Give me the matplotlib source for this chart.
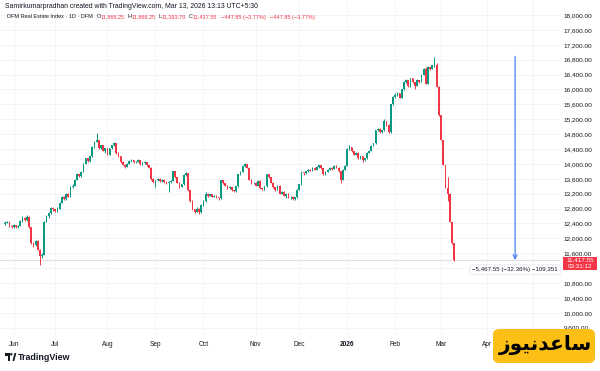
import numpy as np
import matplotlib
matplotlib.use('Agg')
import matplotlib.pyplot as plt
from matplotlib.patches import Rectangle, FancyBboxPatch, Polygon, Circle
from matplotlib.transforms import IdentityTransform

plt.rcParams['font.family'] = ['Liberation Sans', 'DejaVu Sans']

# daily OHLC, DFM Real Estate Index
opens = [
    12380, 12420, 12450, 12330, 12300, 12360, 12310, 12340, 12470, 12560,
    12490, 12580, 12300, 11880, 11820, 11940, 11700, 11520, 11560, 12450,
    12600, 12680, 12820, 12780, 12740, 12800, 12950, 13120, 13050, 13200,
    13120, 13380, 13420, 13580, 13720, 13680, 13780, 14000, 14150, 14080,
    14200, 14450, 14600, 14640, 14430, 14500, 14360, 14420, 14250, 14420,
    14500, 14560, 14300, 14200, 14050, 13980, 13930, 14000, 14080, 14100,
    14050, 14060, 14100, 14000, 14020, 14050, 13960, 13900, 13600, 13520,
    13560, 13600, 13540, 13580, 13520, 13480, 13520, 13550, 13800, 13650,
    13500, 13380, 13450, 13700, 13750, 13300, 13000, 12780, 12720, 12800,
    12700, 12900, 13000, 13200, 13150, 13180, 13120, 13150, 13100, 13080,
    13560, 13480, 13420, 13350, 13380, 13300, 13260, 13400, 13720, 13780,
    13950, 14000, 13900, 13580, 13480, 13500, 13420, 13550, 13350, 13320,
    13400, 13720, 13650, 13500, 13380, 13300, 13420, 13200, 13250, 13150,
    13200, 13100, 13120, 13050, 13100, 13300, 13450, 13780, 13750, 13800,
    13850, 13820, 13900, 13850, 13920, 13960, 13880, 13720, 13780, 13850,
    13900, 13870, 13950, 13900, 13800, 13580, 13850, 13950, 14400, 14450,
    14350, 14250, 14300, 14150, 14200, 14100, 14150, 14300, 14350, 14480,
    14550, 14900, 14950, 14850, 14900, 15150, 15050, 14850, 15600, 15800,
    15850, 15900, 15780, 16000, 16200, 16250, 16080, 16300, 16200, 16100,
    16250, 16200, 16400, 16550, 16150, 16600, 16550, 16650, 16650, 16070,
    15310, 14640, 13970, 13350, 13200, 12440, 11866.25]
highs = [
    12460, 12480, 12460, 12360, 12380, 12370, 12360, 12500, 12590, 12580,
    12620, 12590, 12310, 11900, 11960, 11950, 11720, 11600, 12470, 12620,
    12700, 12850, 12840, 12800, 12830, 12980, 13150, 13140, 13230, 13210,
    13400, 13450, 13600, 13750, 13740, 13800, 14020, 14170, 14160, 14220,
    14470, 14620, 14830, 14650, 14520, 14510, 14440, 14430, 14440, 14520,
    14600, 14570, 14320, 14220, 14070, 14000, 14020, 14100, 14130, 14110,
    14080, 14120, 14110, 14040, 14070, 14060, 13970, 13910, 13620, 13580,
    13620, 13610, 13600, 13590, 13530, 13540, 13570, 13820, 13810, 13660,
    13510, 13470, 13720, 13780, 13760, 13310, 13020, 12800, 12830, 12810,
    12920, 13020, 13240, 13220, 13200, 13190, 13170, 13160, 13110, 13580,
    13570, 13490, 13440, 13400, 13390, 13310, 13420, 13740, 13800, 13980,
    14030, 14010, 13910, 13600, 13520, 13510, 13570, 13560, 13360, 13420,
    13740, 13730, 13660, 13510, 13390, 13440, 13430, 13270, 13260, 13220,
    13210, 13150, 13130, 13120, 13320, 13470, 13800, 13790, 13820, 13870,
    13860, 13920, 13910, 13940, 13980, 13970, 13890, 13800, 13870, 13920,
    13910, 13970, 13960, 13910, 13810, 13870, 13970, 14420, 14520, 14460,
    14360, 14320, 14310, 14220, 14210, 14170, 14320, 14370, 14500, 14570,
    14920, 14970, 14960, 14920, 15200, 15160, 15060, 15620, 15820, 15900,
    15920, 15910, 16020, 16220, 16270, 16260, 16320, 16310, 16210, 16270,
    16260, 16420, 16570, 16600, 16620, 16610, 16670, 16885.10, 16700, 16080,
    15320, 14650, 13980, 13650, 13220, 12450, 11866.25]
lows = [
    12360, 12400, 12300, 12270, 12280, 12290, 12290, 12330, 12450, 12460,
    12480, 12280, 11860, 11760, 11800, 11680, 11290, 11480, 11550, 12430,
    12560, 12660, 12740, 12700, 12720, 12790, 12940, 13020, 13040, 13100,
    13110, 13360, 13400, 13560, 13650, 13660, 13770, 13990, 14050, 14060,
    14190, 14430, 14580, 14400, 14410, 14340, 14300, 14230, 14240, 14400,
    14480, 14280, 14180, 14030, 13960, 13900, 13910, 13990, 14060, 14030,
    14030, 14050, 13980, 13980, 14000, 13940, 13880, 13580, 13500, 13380,
    13540, 13520, 13520, 13500, 13460, 13240, 13500, 13540, 13630, 13480,
    13360, 13370, 13440, 13680, 13280, 12980, 12760, 12690, 12700, 12650,
    12690, 12880, 12990, 13120, 13130, 13100, 13100, 13080, 13040, 13070,
    13460, 13400, 13330, 13330, 13280, 13240, 13250, 13390, 13700, 13770,
    13930, 13880, 13560, 13460, 13460, 13400, 13400, 13330, 13300, 13300,
    13390, 13630, 13480, 13360, 13280, 13290, 13180, 13190, 13130, 13080,
    13080, 13060, 13030, 13040, 13090, 13290, 13440, 13700, 13730, 13780,
    13800, 13810, 13830, 13840, 13900, 13860, 13700, 13700, 13770, 13840,
    13850, 13860, 13880, 13780, 13500, 13570, 13840, 13940, 14380, 14330,
    14230, 14240, 14130, 14140, 14060, 14090, 14140, 14290, 14340, 14470,
    14540, 14880, 14830, 14840, 14890, 15030, 14830, 14840, 15590, 15780,
    15830, 15760, 15770, 15990, 16180, 16060, 16070, 16180, 16000, 16090,
    16180, 16190, 16390, 16140, 16140, 16530, 16540, 16600, 16060, 15300,
    14630, 13960, 13340, 13000, 12430, 11860, 11393.70]
closes = [
    12420, 12450, 12330, 12300, 12360, 12310, 12340, 12470, 12560, 12490,
    12580, 12300, 11880, 11820, 11940, 11700, 11520, 11560, 12450, 12600,
    12680, 12820, 12780, 12740, 12800, 12950, 13120, 13050, 13200, 13120,
    13380, 13420, 13580, 13720, 13680, 13780, 14000, 14150, 14080, 14200,
    14450, 14600, 14640, 14430, 14500, 14360, 14420, 14250, 14420, 14500,
    14560, 14300, 14200, 14050, 13980, 13930, 14000, 14080, 14100, 14050,
    14060, 14100, 14000, 14020, 14050, 13960, 13900, 13600, 13520, 13560,
    13600, 13540, 13580, 13520, 13480, 13520, 13550, 13800, 13650, 13500,
    13380, 13450, 13700, 13750, 13300, 13000, 12780, 12720, 12800, 12700,
    12900, 13000, 13200, 13150, 13180, 13120, 13150, 13100, 13080, 13560,
    13480, 13420, 13350, 13380, 13300, 13260, 13400, 13720, 13780, 13950,
    14000, 13900, 13580, 13480, 13500, 13420, 13550, 13350, 13320, 13400,
    13720, 13650, 13500, 13380, 13300, 13420, 13200, 13250, 13150, 13200,
    13100, 13120, 13050, 13100, 13300, 13450, 13780, 13750, 13800, 13850,
    13820, 13900, 13850, 13920, 13960, 13880, 13720, 13780, 13850, 13900,
    13870, 13950, 13900, 13800, 13580, 13850, 13950, 14400, 14450, 14350,
    14250, 14300, 14150, 14200, 14100, 14150, 14300, 14350, 14480, 14550,
    14900, 14950, 14850, 14900, 15150, 15050, 14850, 15600, 15800, 15850,
    15900, 15780, 16000, 16200, 16250, 16080, 16300, 16200, 16100, 16250,
    16200, 16400, 16550, 16150, 16600, 16550, 16650, 16700, 16070, 15310,
    14640, 13970, 13350, 13200, 12440, 11865.40, 11417.55]

month_labels = ['Jun', 'Jul', 'Aug', 'Sep', 'Oct', 'Nov', 'Dec', '2026', 'Feb', 'Mar', 'Apr']
month_bars = [4, 23, 47, 69, 91, 115, 135, 157, 179, 200, 221]
hidden_month_bar = 242          # May: gridline only, label sits under the watermark
price_ticks = list(range(9600, 18001, 400))

measure_bar = 234
measure_text = '\u22125,467.55 (\u221232.36%) \u2212109,351'
countdown = '03:31:12'
header1 = 'Samirkumarpradhan created with TradingView.com, Mar 13, 2026 13:13 UTC+5:30'
symbol = 'DFM Real Estate Index \u00b7 1D \u00b7 DFM'
watermark = '\uFEAF\uFEEE\uFEF4\uFEE7\uFEAA\uFECB\uFE8E\uFEB3'   # ساعدنیوز, pre-shaped

UP, DOWN = '#089981', '#f23645'
DARK, GRID = '#131722', '#f0f3fa'
W, H = 600, 371

fig = plt.figure(figsize=(6, 3.71), dpi=100)
ax = fig.add_axes([0, 1 - 335 / H, 560 / W, 335 / H])
ax.set_xlim(-2.3, 254.6)
ax.set_ylim(9405, 18403)

o, hi, lo, c = map(np.array, (opens, highs, lows, closes))
x = np.arange(len(c))
col = np.where(c >= o, UP, DOWN)
ax.vlines(x, lo, hi, colors=col, lw=0.7, zorder=2)
ax.bar(x, np.maximum(np.abs(c - o), 12), bottom=np.minimum(o, c), width=0.75,
       color=col, lw=0, zorder=3)

# last price line + measure tool
ax.axhline(c[-1], color='#eadde1', lw=0.8, zorder=1)
ax.annotate('', xy=(measure_bar, c[-1]), xytext=(measure_bar, hi.max()),
            arrowprops=dict(arrowstyle='->', color='#4d7ff2', lw=0.9,
                            shrinkA=0, shrinkB=0, mutation_scale=7), zorder=4)
ax.annotate(measure_text, xy=(measure_bar, c[-1]), xytext=(0, -7), textcoords='offset points',
            ha='center', va='center', fontsize=4.4, color=DARK, zorder=5,
            bbox=dict(boxstyle='round,pad=0.4', fc='white', ec='#e0e3eb', lw=0.5))

# price scale; the label just under the last price is hidden by the badge
ax.yaxis.tick_right()
ylabels = ['' if 0 < c[-1] - v < 300 else f'{v:,.2f}' for v in price_ticks]
ax.set_yticks(price_ticks, ylabels)
ax.set_xticks(month_bars, month_labels)
ax.tick_params(axis='y', length=0, pad=2.5, labelsize=4.6, labelcolor=DARK)
ax.tick_params(axis='x', length=0, pad=4, labelsize=4.7, labelcolor=DARK)
for t in ax.get_xticklabels():
    if t.get_text() == '2026':
        t.set_fontweight('bold')
ax.grid(color=GRID, lw=0.6, zorder=0)
ax.axvline(hidden_month_bar, color=GRID, lw=0.6, zorder=0)
ax.set_axisbelow(True)
for s in ax.spines.values():
    s.set_visible(False)

# last price badge on the price scale
fig.add_artist(Rectangle((563, H - 269.5), 34, 13, transform=IdentityTransform(),
                         fc=DOWN, ec='none', zorder=5))
fig.text(580 / W, 1 - 259.8 / H, f'{c[-1]:,.2f}', color='white', fontsize=4.5,
         ha='center', va='center', zorder=6)
fig.text(580 / W, 1 - 266.2 / H, countdown, color='white', fontsize=4.5,
         ha='center', va='center', zorder=6)

# header
fig.text(5 / W, 1 - 6 / H, header1, fontsize=4.95, color=DARK, va='center')
chg = c[-1] - c[-2]
chg_txt = f'{chg:,.2f} ({chg / c[-2] * 100:.2f}%)'.replace('-', '\u2212')
pieces = [(symbol, DARK, 0), ('O', DARK, 2.5), (f'{o[-1]:,.2f}', DOWN, 0.2),
          ('H', DARK, 1.8), (f'{hi[-1]:,.2f}', DOWN, 0.2),
          ('L', DARK, 1.8), (f'{lo[-1]:,.2f}', DOWN, 0.2),
          ('C', DARK, 1.8), (f'{c[-1]:,.2f}', DOWN, 0.2),
          (chg_txt, DOWN, 3), (chg_txt, DOWN, 3)]
prev = None
for txt, clr, gap in pieces:
    if prev is None:
        prev = fig.text(7 / W, 1 - 17 / H, txt, fontsize=4.0, color=clr, va='center')
    else:
        prev = ax.annotate(txt, xy=(1, 0.5), xycoords=prev, xytext=(gap, 0),
                           textcoords='offset points', fontsize=4.0, color=clr,
                           ha='left', va='center', annotation_clip=False)

# TradingView logo, bottom left
idt = IdentityTransform()
fig.add_artist(Polygon([(5, H - 353), (10, H - 353), (10, H - 361), (8, H - 361),
                        (8, H - 355.5), (5, H - 355.5)], closed=True, transform=idt, fc=DARK, ec='none'))
fig.add_artist(Circle((11.3, H - 354.3), 1.2, transform=idt, fc=DARK, ec='none'))
fig.add_artist(Polygon([(12.5, H - 361), (14.5, H - 353), (16.3, H - 353), (14.3, H - 361)],
                       closed=True, transform=idt, fc=DARK, ec='none'))
fig.text(18 / W, 1 - 357 / H, 'TradingView', fontsize=6.4, fontweight='bold',
         color=DARK, va='center')

# watermark, bottom right
fig.add_artist(FancyBboxPatch((493, H - 363), 102, 34, boxstyle='round,pad=0,rounding_size=6',
                              transform=idt, fc='#fbbf16', ec='none', zorder=7))
fig.text(545 / W, 1 - 345 / H, watermark, fontsize=14.5, fontweight='bold', color='black',
         family=['DejaVu Sans'], ha='center', va='center', zorder=8)

fig.savefig('out.png', dpi=100)
